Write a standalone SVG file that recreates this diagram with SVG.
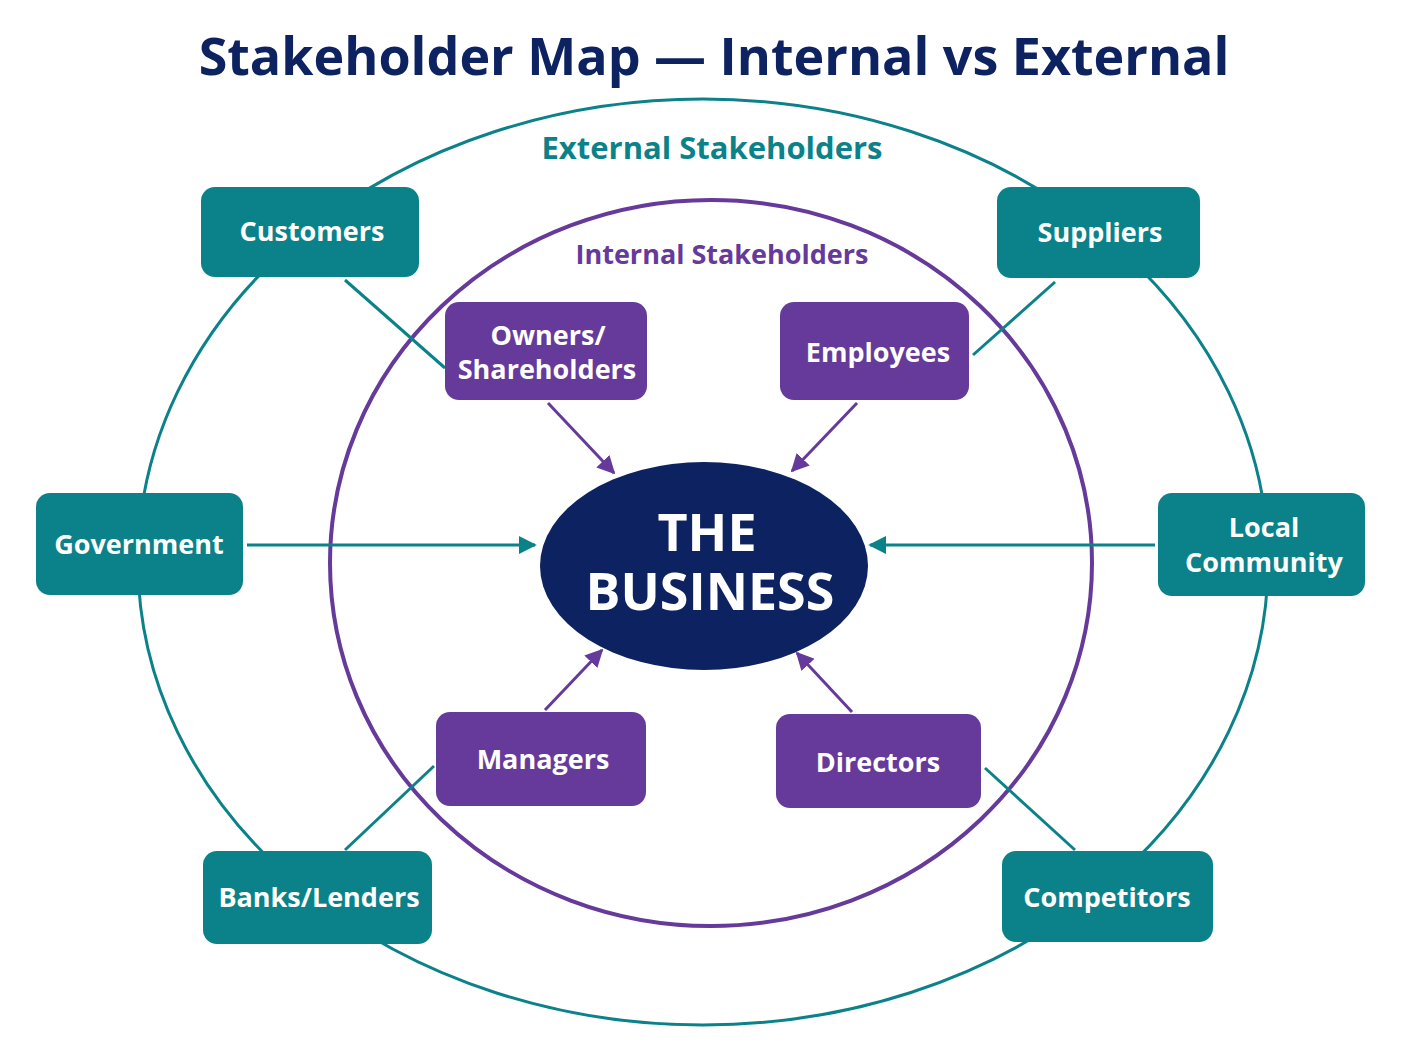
<svg xmlns="http://www.w3.org/2000/svg" width="1408" height="1056" viewBox="0 0 1408 1056">
<defs>
<style>
.t{font-family:"Open Sans","Liberation Sans",sans-serif;font-weight:bold;fill:#fff;font-size:27px;text-anchor:middle}
.big{font-size:52px}
.teal{fill:#0b8289}
.purp{fill:#653a9a}
.lt{stroke:#0b8289;stroke-width:3;fill:none}
.lp{stroke:#653a9a;stroke-width:3;fill:none}
</style>
<marker id="at" viewBox="0 0 10 10" refX="9" refY="5" markerWidth="6" markerHeight="6" orient="auto"><path d="M0,0L10,5L0,10z" fill="#0b8289"/></marker>
<marker id="ap" viewBox="0 0 10 10" refX="9" refY="5" markerWidth="6" markerHeight="6" orient="auto"><path d="M0,0L10,5L0,10z" fill="#653a9a"/></marker>
</defs>
<rect width="1408" height="1056" fill="#fff"/>
<text x="714" y="75" font-family="Open Sans,Liberation Sans,sans-serif" font-weight="bold" font-size="52" fill="#0d2260" text-anchor="middle">Stakeholder Map — Internal vs External</text>
<g id="rings">
<ellipse cx="703" cy="562" rx="565" ry="463" class="lt"/>
<ellipse cx="711" cy="563" rx="381" ry="363" fill="none" stroke="#653a9a" stroke-width="4"/>
<text x="712" y="159" font-family="Open Sans,Liberation Sans,sans-serif" font-weight="bold" font-size="31" fill="#0b8289" text-anchor="middle">External Stakeholders</text>
<text x="722" y="264" font-family="Open Sans,Liberation Sans,sans-serif" font-weight="bold" font-size="27" fill="#653a9a" text-anchor="middle">Internal Stakeholders</text>
</g>
<g id="connectors">
<line x1="345" y1="280" x2="445" y2="368" class="lt"/>
<line x1="1055" y1="282" x2="973" y2="355" class="lt"/>
<line x1="345" y1="850" x2="434" y2="766" class="lt"/>
<line x1="1075" y1="850" x2="985" y2="768" class="lt"/>
<line x1="247" y1="545" x2="535" y2="545" class="lt" marker-end="url(#at)"/>
<line x1="1155" y1="545" x2="870" y2="545" class="lt" marker-end="url(#at)"/>
<line x1="548" y1="403" x2="614" y2="473" class="lp" marker-end="url(#ap)"/>
<line x1="857" y1="403" x2="792" y2="471" class="lp" marker-end="url(#ap)"/>
<line x1="545" y1="710" x2="602" y2="650" class="lp" marker-end="url(#ap)"/>
<line x1="852" y1="712" x2="797" y2="653" class="lp" marker-end="url(#ap)"/>
</g>
<g id="business"><ellipse cx="704" cy="566" rx="164" ry="104" fill="#0d2260"/>
<text class="t big" x="707" y="551">THE</text><text class="t big" x="710" y="610">BUSINESS</text></g>
<g id="customers"><rect x="201" y="187" width="218" height="90" rx="14" class="teal"/><text class="t" x="312" y="241">Customers</text></g>
<g id="suppliers"><rect x="997" y="187" width="203" height="91" rx="14" class="teal"/><text class="t" x="1100" y="242">Suppliers</text></g>
<g id="government"><rect x="36" y="493" width="207" height="102" rx="14" class="teal"/><text class="t" x="139" y="554">Government</text></g>
<g id="community"><rect x="1158" y="493" width="207" height="103" rx="14" class="teal"/><text class="t" x="1264" y="537">Local</text><text class="t" x="1264" y="572">Community</text></g>
<g id="banks"><rect x="203" y="851" width="229" height="93" rx="14" class="teal"/><text class="t" x="319" y="907">Banks/Lenders</text></g>
<g id="competitors"><rect x="1002" y="851" width="211" height="91" rx="14" class="teal"/><text class="t" x="1107" y="907">Competitors</text></g>
<g id="owners"><rect x="445" y="302" width="202" height="98" rx="14" class="purp"/><text class="t" x="548" y="345">Owners/</text><text class="t" x="547" y="379">Shareholders</text></g>
<g id="employees"><rect x="780" y="302" width="189" height="98" rx="14" class="purp"/><text class="t" x="878" y="362">Employees</text></g>
<g id="managers"><rect x="436" y="712" width="210" height="94" rx="14" class="purp"/><text class="t" x="543" y="769">Managers</text></g>
<g id="directors"><rect x="776" y="714" width="205" height="94" rx="14" class="purp"/><text class="t" x="878" y="772">Directors</text></g>
</svg>
